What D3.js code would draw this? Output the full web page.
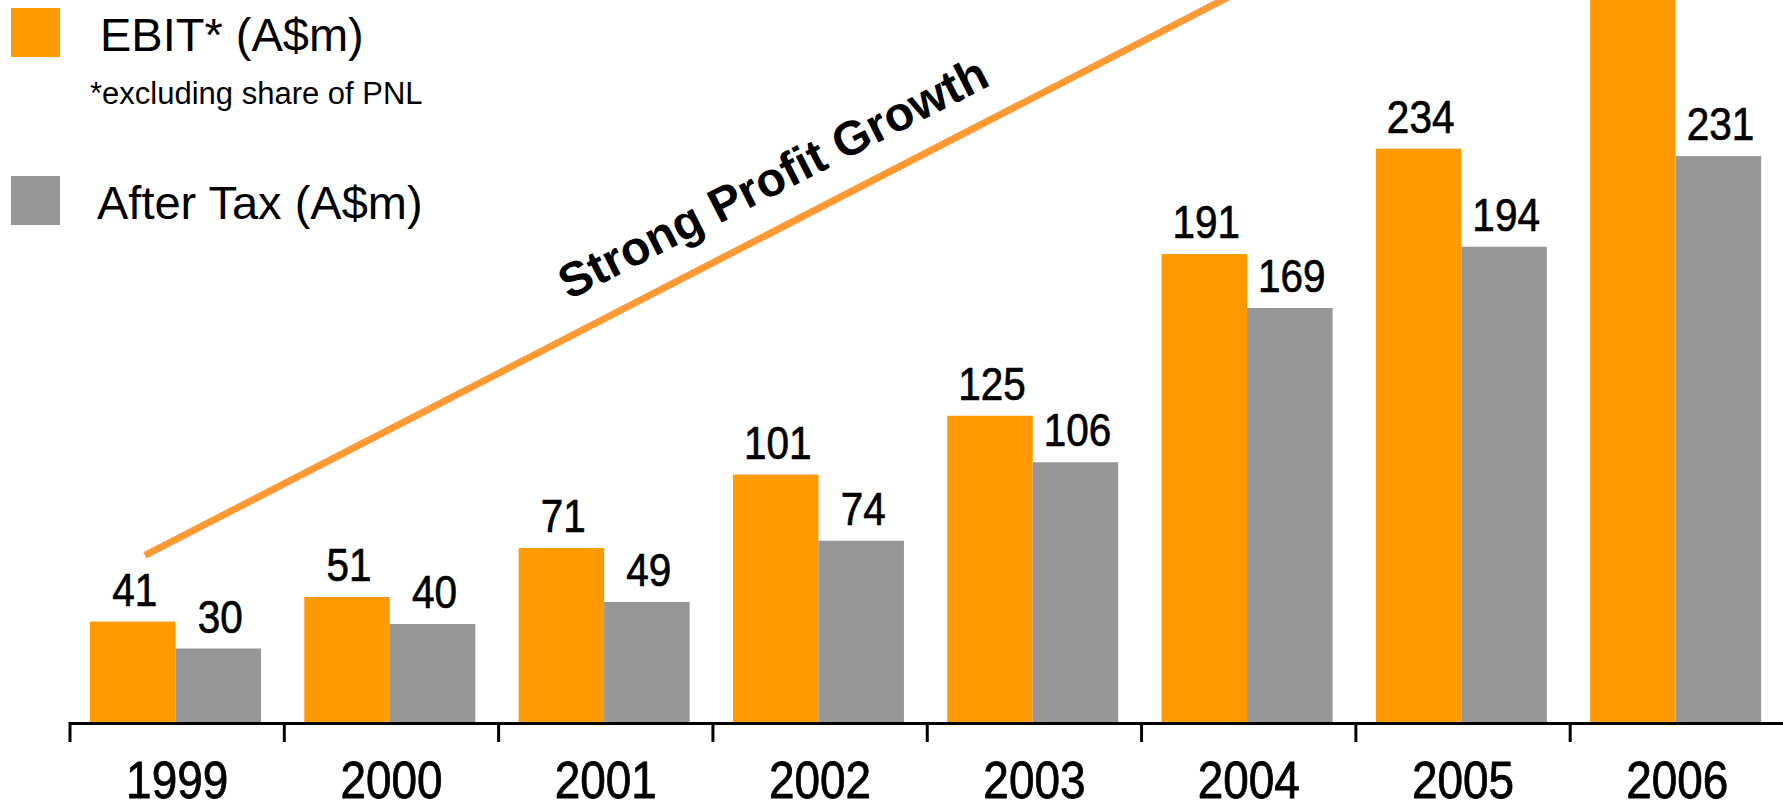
<!DOCTYPE html>
<html>
<head>
<meta charset="utf-8">
<script src="https://cdn.jsdelivr.net/npm/d3@7"></script>
<style>
  html, body { margin: 0; padding: 0; background: #fff; overflow: hidden; }
  svg { display: block; }
</style>
</head>
<body>
<div id="chart"></div>
<script>
// chart data
const years = ["1999", "2000", "2001", "2002", "2003", "2004", "2005", "2006"]
const ebit = [41, 51, 71, 101, 125, 191, 234, 320] // 2006 bar runs off the top
const afterTax = [30, 40, 49, 74, 106, 169, 194, 231]
const seriesNames = ["EBIT* (A$m)", "After Tax (A$m)"]
const footnote = "*excluding share of PNL"
const trendLabel = "Strong Profit Growth"
// trend arrow ends, in band index / value units
const trendPos = [0.35, 5.47]
const trendVal = [68, 298.8]

const width = 1783
const height = 809
const orange = "#FF9900"
const grey = "#969696"
const font = "'Liberation Sans', Arial, sans-serif"

const svg = d3
  .select("#chart")
  .append("svg")
  .attr("width", width)
  .attr("height", height)

const x = d3.scaleBand().domain(years).range([70, 1784.5]).paddingInner(0).paddingOuter(0)
const bw = x.bandwidth()
const inner = d3.scaleBand().domain([0, 1]).range([20, 191])
const y = d3.scaleLinear().domain([0, 294.7]).range([722, 0])
const xPos = d3.scaleLinear().domain([0, years.length]).range([70, 1784.5])

const rows = years.map((yr, i) => ({ year: yr, values: [ebit[i], afterTax[i]] }))

// bars
const groups = svg
  .selectAll("g.year")
  .data(rows)
  .enter()
  .append("g")
  .attr("class", "year")
  .attr("transform", d => `translate(${x(d.year)},0)`)

groups
  .selectAll("rect")
  .data(d => d.values)
  .enter()
  .append("rect")
  .attr("x", (d, i) => inner(i))
  .attr("y", d => y(d))
  .attr("width", inner.bandwidth())
  .attr("height", d => y(0) - y(d))
  .attr("fill", (d, i) => (i === 0 ? orange : grey))

// value labels, condensed by a horizontal squeeze (no narrow font available)
groups
  .selectAll("text")
  .data(d => d.values.map((v, i) => ({ v, i })).filter(o => y(o.v) - 16 > 40))
  .enter()
  .append("text")
  .attr("transform", o => `translate(${inner(o.i) + inner.bandwidth() / 2 + 2},${y(o.v) - 16}) scale(0.88,1)`)
  .attr("text-anchor", "middle")
  .attr("font-family", font)
  .attr("font-size", "46px")
  .attr("fill", "#000")
  .attr("stroke", "#000")
  .attr("stroke-width", 0.7)
  .text(o => o.v)

// axis line and boundary ticks
svg
  .append("line")
  .attr("x1", x(years[0]))
  .attr("x2", width)
  .attr("y1", y(0) + 1.5)
  .attr("y2", y(0) + 1.5)
  .attr("stroke", "#000")
  .attr("stroke-width", 3)

svg
  .selectAll("line.tick")
  .data(years)
  .enter()
  .append("line")
  .attr("class", "tick")
  .attr("x1", d => x(d))
  .attr("x2", d => x(d))
  .attr("y1", y(0))
  .attr("y2", y(0) + 20)
  .attr("stroke", "#000")
  .attr("stroke-width", 3)

svg
  .selectAll("text.yr")
  .data(years)
  .enter()
  .append("text")
  .attr("class", "yr")
  .attr("transform", d => `translate(${x(d) + bw / 2},798) scale(0.9,1)`)
  .attr("text-anchor", "middle")
  .attr("font-family", font)
  .attr("font-size", "51px")
  .attr("fill", "#000")
  .attr("stroke", "#000")
  .attr("stroke-width", 0.8)
  .text(d => d)

// trend line + label
svg
  .append("line")
  .attr("x1", xPos(trendPos[0]))
  .attr("y1", y(trendVal[0]))
  .attr("x2", xPos(trendPos[1]))
  .attr("y2", y(trendVal[1]))
  .attr("stroke", "#FF9933")
  .attr("stroke-width", 7)

svg
  .append("text")
  .attr("transform", "translate(780.5,192.5) rotate(-27)")
  .attr("text-anchor", "middle")
  .attr("font-family", font)
  .attr("font-weight", "bold")
  .attr("font-size", "48px")
  .attr("fill", "#000")
  .text(trendLabel)

// legend
const legend = svg.append("g").attr("font-family", font)
const legendY = [8, 176]
legend
  .selectAll("rect")
  .data(seriesNames)
  .enter()
  .append("rect")
  .attr("x", 11)
  .attr("y", (d, i) => legendY[i])
  .attr("width", 49)
  .attr("height", 49)
  .attr("fill", (d, i) => (i === 0 ? orange : grey))

legend
  .selectAll("text.lg")
  .data(seriesNames)
  .enter()
  .append("text")
  .attr("class", "lg")
  .attr("x", (d, i) => (i === 0 ? 100 : 97))
  .attr("y", (d, i) => legendY[i] + 43)
  .attr("font-size", "47px")
  .attr("fill", "#000")
  .text(d => d)

legend
  .append("text")
  .attr("x", 90)
  .attr("y", 104)
  .attr("font-size", "31px")
  .attr("fill", "#000")
  .text(footnote)
</script>
</body>
</html>
